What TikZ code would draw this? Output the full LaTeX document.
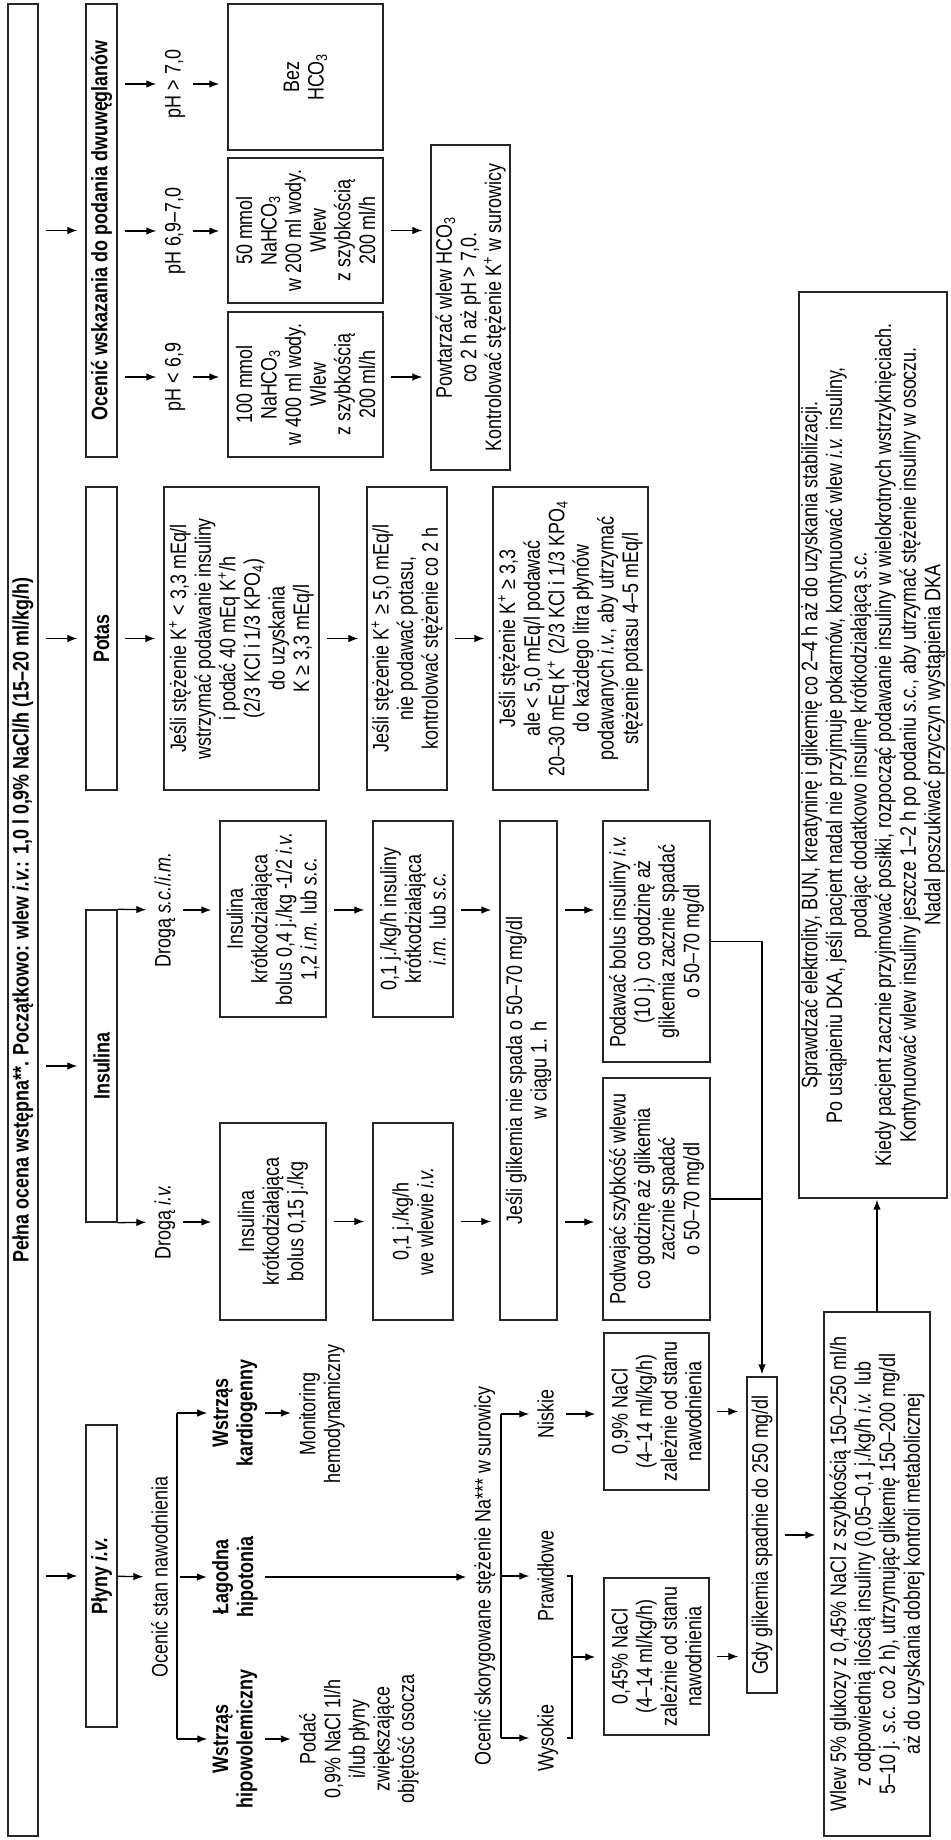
\documentclass[tikz,border=0pt]{standalone}
\usepackage{fontspec}
\setmainfont[FakeStretch=0.8]{Liberation Sans}
\usetikzlibrary{arrows.meta}
\newcommand{\txtsize}{\fontsize{11.2}{12.3}\selectfont}

\tikzset{
	box/.style={draw=black!85, line width=0.7pt, rotate=90, align=center, inner sep=1pt, font=\txtsize},
	hdr/.style={box, minimum height=15.5pt, font=\txtsize\bfseries},
	lbl/.style={rotate=90, align=center, inner sep=0pt, font=\txtsize},
	slbl/.style={lbl, text height=8pt, text depth=2.3pt},
	blbl/.style={lbl, font=\txtsize\bfseries},
	ln/.style={line width=0.65pt},
	arr/.style={ln, -{Latex[length=5pt,width=3.8pt]}, shorten <=3.5pt, shorten >=4pt},
}

\begin{document}
\begin{tikzpicture}[x=0.5pt, y=-0.5pt]
		\useasboundingbox (0,0) rectangle (950,1840);

		\node[hdr, minimum width=916pt, minimum height=15pt] (init) at (23,920) {Pełna ocena wstępna**. Początkowo: wlew \textit{i.v.}: 1,0 l 0,9\% NaCl/h (15--20 ml/kg/h)};

		\node[hdr, minimum width=226.5pt] (hbic) at (101.5,230.5) {Ocenić wskazania do podania dwuwęglanów};
		\node[hdr, minimum width=151.5pt] (hpot) at (101.5,638.5) {Potas};
		\node[hdr, minimum width=156pt] (hins) at (101.5,1066) {Insulina};
		\node[hdr, minimum width=151pt] (hfl) at (101.5,1576) {Płyny \textit{i.v.}};
		\foreach \n in {hbic,hpot,hins,hfl}
			\draw[arr] (init.south |- \n.north) -- (\n.north);

		% dwuweglany
		\node[slbl] (ph1) at (175,84) {pH > 7,0};
		\node[slbl] (ph2) at (175,231) {pH 6,9--7,0};
		\node[slbl] (ph3) at (175,377) {pH < 6,9};
		\node[box, minimum width=73pt, minimum height=77.5pt] (bez) at (305.5,77) {Bez\\HCO\textsubscript{3}};
		\node[box, minimum width=72.5pt, minimum height=77.5pt] (b50) at (305.5,230.5) {50 mmol\\NaHCO\textsubscript{3}\\w 200 ml wody.\\Wlew\\z szybkością\\200 ml/h};
		\node[box, minimum width=72.5pt, minimum height=77.5pt] (b100) at (305.5,384.5) {100 mmol\\NaHCO\textsubscript{3}\\w 400 ml wody.\\Wlew\\z szybkością\\200 ml/h};
		\node[box, minimum width=162.5pt, minimum height=39.5pt] (powt) at (470.5,307.5) {Powtarzać wlew HCO\textsubscript{3}\\co 2 h aż pH > 7,0.\\Kontrolować stężenie K\textsuperscript{+} w surowicy};
		\foreach \p/\b in {ph1/bez,ph2/b50,ph3/b100} {
			\draw[arr] (hbic.south |- \p) -- (\p);
			\draw[arr] (\p) -- (\p -| \b.north);
		}
		\draw[arr] (b50) -- (b50 -| powt.north);
		\draw[arr] (b100.south |- ph3) -- (ph3 -| powt.north);

		% potas
		\node[box, minimum width=151.5pt, minimum height=77.5pt] (pot1) at (241.5,638.5) {Jeśli stężenie K\textsuperscript{+} < 3,3 mEq/l\\wstrzymać podawanie insuliny\\i podać 40 mEq K\textsuperscript{+}/h\\(2/3 KCl i 1/3 KPO\textsubscript{4})\\do uzyskania\\K ≥ 3,3 mEq/l};
		\node[box, minimum width=151.5pt, minimum height=40pt] (pot2) at (407,638.5) {Jeśli stężenie K\textsuperscript{+} ≥ 5,0 mEq/l\\nie podawać potasu,\\kontrolować stężenie co 2 h};
		\node[box, minimum width=151.5pt, minimum height=77.5pt] (pot3) at (570.5,638.5) {Jeśli stężenie K\textsuperscript{+} ≥ 3,3\\ale < 5,0 mEq/l podawać\\20--30 mEq K\textsuperscript{+} (2/3 KCl i 1/3 KPO\textsubscript{4}\\do każdego litra płynów\\podawanych \textit{i.v.}, aby utrzymać\\stężenie potasu 4--5 mEq/l};
		\draw[arr] (hpot) -- (pot1);
		\draw[arr] (pot1) -- (pot2);
		\draw[arr] (pot2) -- (pot3);

		% insulina
		\node[slbl] (dsc) at (165,910) {Drogą \textit{s.c.}/\textit{i.m.}};
		\node[slbl] (div) at (165,1222) {Drogą \textit{i.v.}};
		\draw[arr, shorten <=0pt] (hins.south east) -- (dsc);
		\draw[arr, shorten <=0pt] (hins.south west) -- (div);
		\node[box, minimum width=98pt, minimum height=53pt] (bsc) at (273,919) {Insulina\\krótkodziałająca\\bolus 0,4 j./kg -1/2 \textit{i.v.}\\1,2 \textit{i.m.} lub \textit{s.c.}};
		\node[box, minimum width=98.5pt, minimum height=53pt] (biv) at (273,1221.5) {Insulina\\krótkodziałająca\\bolus 0,15 j./kg};
		\node[box, minimum width=98pt, minimum height=40pt] (scim) at (413,919) {0,1 j./kg/h insuliny\\krótkodziałająca\\\textit{i.m.} lub \textit{s.c.}};
		\node[box, minimum width=98.5pt, minimum height=40pt] (wiv) at (413,1221.5) {0,1 j./kg/h\\we wlewie \textit{i.v.}};
		\node[box, minimum width=249.5pt, minimum height=28.5pt] (glik) at (528.5,1070.5) {Jeśli glikemia nie spada o 50--70 mg/dl\\w ciągu 1. h};
		\node[box, minimum width=120.5pt, minimum height=53.5pt] (bol) at (656.5,941.5) {Podawać bolus insuliny \textit{i.v.}\\(10 j.) co godzinę aż\\glikemia zacznie spadać\\o 50--70 mg/dl};
		\node[box, minimum width=121pt, minimum height=53.5pt] (podw) at (656.5,1199) {Podwajać szybkość wlewu\\co godzinę aż glikemia\\zacznie spadać\\o 50--70 mg/dl};
		\draw[arr] (dsc) -- (dsc -| bsc.north);
		\draw[arr] (div) -- (div -| biv.north);
		\draw[arr] (bsc.south |- dsc) -- (scim.north |- dsc);
		\draw[arr] (biv) -- (wiv);
		\draw[arr] (scim.south |- dsc) -- (glik.north |- dsc);
		\draw[arr] (wiv) -- (wiv -| glik.north);
		\draw[arr] (glik.south |- dsc) -- (bol.north |- dsc);
		\draw[arr] (glik.south |- div) -- (podw.north |- div);

		\node[box, minimum width=158pt, minimum height=15pt] (gdy) at (762,1535) {Gdy glikemia spadnie do 250 mg/dl};
		\draw[arr, shorten <=0pt, shorten >=1pt] (bol.south) -| (gdy.east);
		\draw[ln] (podw.south) -- (podw.south -| gdy.east);

		% plyny
		\node[slbl] (ocst) at (162,1577) {Ocenić stan nawodnienia};
		\coordinate (f1) at (177,1577);
		\node[blbl] (kard) at (235,1413) {Wstrząs\\kardiogenny};
		\node[blbl] (lag) at (235,1577) {Łagodna\\hipotonia};
		\node[blbl] (hipo) at (235,1739) {Wstrząs\\hipowolemiczny};
		\draw[arr, shorten <=0pt] (hfl) -- (ocst);
		\draw[ln] (f1 |- kard) -- (f1 |- hipo);
		\draw[arr, shorten >=2.5pt] (ocst) -- (lag);
		\draw[arr, shorten <=0pt, shorten >=2.5pt] (f1 |- kard) -- (kard);
		\draw[arr, shorten <=0pt, shorten >=2.5pt] (f1 |- hipo) -- (hipo);
		\node[lbl] (mon) at (322,1414) {Monitoring\\hemodynamiczny};
		\node[lbl] (pod) at (359,1739) {Podać\\0,9\% NaCl 1l/h\\i/lub płyny\\zwiększające\\objętość osocza};
		\draw[arr] (kard) -- (kard -| mon.north);
		\draw[arr] (hipo) -- (hipo -| pod.north);

		\node[slbl] (ocna) at (485,1576) {Ocenić skorygowane stężenie Na*** w surowicy};
		\draw[arr] (lag) -- (lag -| ocna.north);
		\coordinate (f2) at (501,1576);
		\node[slbl] (nisk) at (548,1414) {Niskie};
		\node[slbl] (praw) at (548,1576) {Prawidłowe};
		\node[slbl] (wys) at (548,1738) {Wysokie};
		\draw[ln] (f2 |- nisk) -- (f2 |- wys);
		\draw[arr, shorten <=0pt] (f2 |- nisk) -- (nisk);
		\draw[arr, shorten <=0pt] (f2) -- (praw);
		\draw[arr, shorten <=0pt] (f2 |- wys) -- (wys);

		\node[box, minimum width=78.5pt, minimum height=52.5pt] (n09) at (656.5,1411.5) {0,9\% NaCl\\(4--14 ml/kg/h)\\zależnie od stanu\\nawodnienia};
		\node[box, minimum width=78.5pt, minimum height=52.5pt] (n045) at (656.5,1656.5) {0,45\% NaCl\\(4--14 ml/kg/h)\\zależnie od stanu\\nawodnienia};
		\coordinate (br) at (572,1657);
		\draw[arr] (nisk) -- (nisk -| n09.north);
		\draw[ln, shorten <=4pt, shorten >=4pt] (praw.south) -- (praw.south -| br) -- (wys.south -| br) -- (wys.south);
		\draw[arr, shorten <=0pt] (br) -- (br -| n045.north);
		\draw[arr] (n09) -- (n09 -| gdy.north);
		\draw[arr] (n045) -- (n045 -| gdy.north);

		% koniec
		\node[box, minimum width=262pt, minimum height=53pt] (wlew) at (877,1574) {Wlew 5\% glukozy z 0,45\% NaCl z szybkością 150--250 ml/h\\z odpowiednią ilością insuliny (0,05--0,1 j./kg/h \textit{i.v.} lub\\5--10 j. \textit{s.c.} co 2 h), utrzymując glikemię 150--200 mg/dl\\aż do uzyskania dobrej kontroli metabolicznej};
		\draw[arr] (gdy) -- (gdy -| wlew.north);
		\node[box, minimum width=453pt, minimum height=73pt] (fin) at (873,745) {Sprawdzać elektrolity, BUN, kreatyninę i glikemię co 2--4 h aż do uzyskania stabilizacji.\\Po ustąpieniu DKA, jeśli pacjent nadal nie przyjmuje pokarmów, kontynuować wlew \textit{i.v.} insuliny,\\podając dodatkowo insulinę krótkodziałającą \textit{s.c.}\\Kiedy pacjent zacznie przyjmować posiłki, rozpocząć podawanie insuliny w wielokrotnych wstrzyknięciach.\\Kontynuować wlew insuliny jeszcze 1--2 h po podaniu \textit{s.c.}, aby utrzymać stężenie insuliny w osoczu.\\Nadal poszukiwać przyczyn wystąpienia DKA};
		\draw[arr, shorten <=0pt, shorten >=0.5pt] (wlew.east) -- (wlew.east |- fin.west);
	\end{tikzpicture}
\end{document}
